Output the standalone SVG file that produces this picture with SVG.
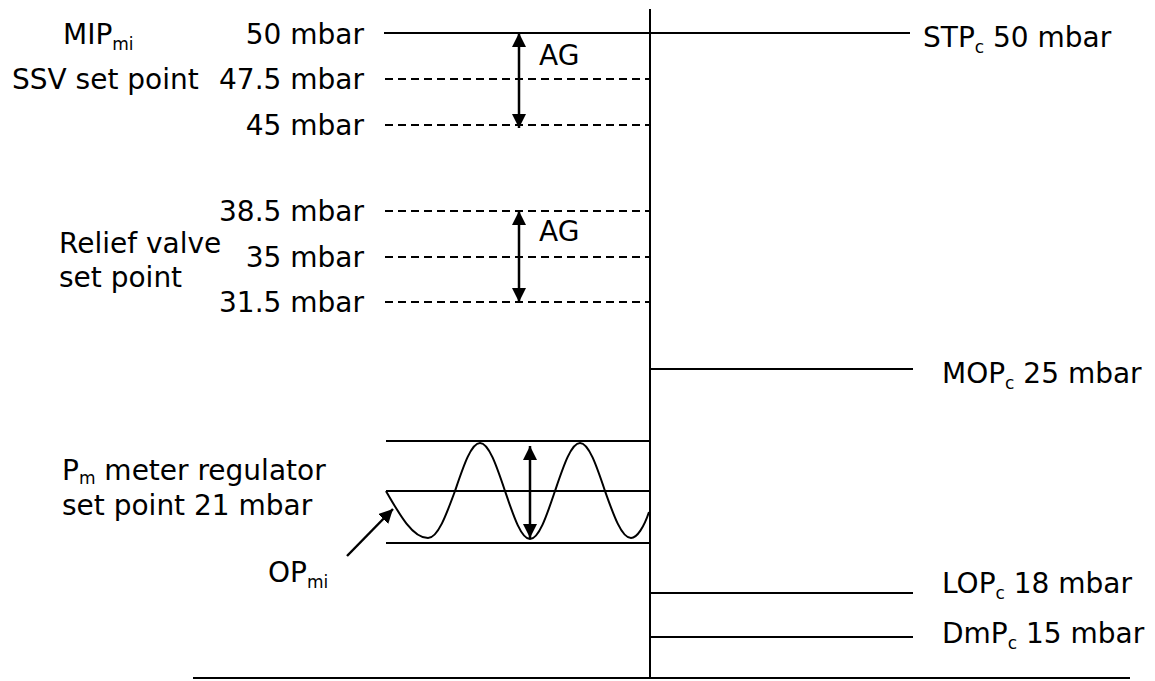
<svg xmlns="http://www.w3.org/2000/svg" width="1155" height="681" viewBox="0 0 1155 681">
<style>
 text { font-family: "DejaVu Sans", Verdana, sans-serif; font-size: 28px; fill: #000; }
 .r { text-anchor: end; }
 .sub { font-size: 17px; }
 .solid { stroke: #000; stroke-width: 2; fill: none; }
 .dash { stroke: #000; stroke-width: 2; stroke-dasharray: 8 5; fill: none; }
 .arr { stroke: #000; stroke-width: 2.5; fill: none; marker-start: url(#ah); marker-end: url(#ah); }
 .one { stroke: #000; stroke-width: 2.5; fill: none; marker-end: url(#ah); }
</style>
<defs>
 <marker id="ah" viewBox="0 0 10 10" refX="10" refY="5" markerWidth="14" markerHeight="14" markerUnits="userSpaceOnUse" orient="auto-start-reverse">
  <path d="M0,0 L10,5 L0,10 z" fill="#000"/>
 </marker>
</defs>

<g id="connectors">
 <line id="axis" class="solid" x1="650" y1="9" x2="650" y2="678"/>
 <line id="baseline" class="solid" x1="193" y1="678" x2="1130" y2="678"/>
 <line class="solid" x1="384" y1="33" x2="910" y2="33"/>
 <line class="dash" x1="385" y1="79" x2="650" y2="79"/>
 <line class="dash" x1="385" y1="125" x2="650" y2="125"/>
 <line class="dash" x1="385" y1="211" x2="650" y2="211"/>
 <line class="dash" x1="385" y1="257" x2="650" y2="257"/>
 <line class="dash" x1="385" y1="302" x2="650" y2="302"/>
 <line class="solid" x1="650" y1="369" x2="913" y2="369"/>
 <line class="solid" x1="650" y1="593" x2="913" y2="593"/>
 <line class="solid" x1="650" y1="637" x2="913" y2="637"/>
 <line class="solid" x1="386" y1="441" x2="650" y2="441"/>
 <line class="solid" x1="386" y1="491" x2="650" y2="491"/>
 <line class="solid" x1="386" y1="543" x2="650" y2="543"/>
 <line class="arr" x1="519" y1="33" x2="519" y2="128"/>
 <line class="arr" x1="519" y1="211" x2="519" y2="302"/>
 <line class="arr" x1="530" y1="446" x2="530" y2="538"/>
 <line class="one" x1="347" y1="556" x2="393" y2="509"/>
</g>

<g id="wave">
 <path class="solid" d="M386,491 C399.7,515 412.8,538 428,538 C437.8,538 446.2,515 455,491 C463.2,467 471,443 480,443 C489,443 496.9,467 505,491 C513.2,515 521,539 530,539 C539,539 546.9,515 555,491 C563.2,467 571,443 580,443 C589,443 596.9,467 605,491 C613.5,515 621.6,538 631,538 C637,538 644,527 649,512"/>
</g>

<g id="left-labels">
 <text x="63" y="44">MIP<tspan class="sub" dy="6">mi</tspan></text>
 <text class="r" x="364" y="44">50 mbar</text>
 <text x="12" y="89">SSV set point</text>
 <text class="r" x="364" y="89">47.5 mbar</text>
 <text class="r" x="364" y="135">45 mbar</text>
 <text class="r" x="364" y="221">38.5 mbar</text>
 <text class="r" x="364" y="267">35 mbar</text>
 <text class="r" x="364" y="312">31.5 mbar</text>
 <text x="59" y="253">Relief valve</text>
 <text x="59" y="287">set point</text>
 <text x="62" y="480">P<tspan class="sub" dy="4">m</tspan><tspan dy="-4"> meter regulator</tspan></text>
 <text x="62" y="515">set point 21 mbar</text>
 <text x="268" y="582">OP<tspan class="sub" dy="6">mi</tspan></text>
 <text x="539" y="65">AG</text>
 <text x="539" y="241">AG</text>
</g>

<g id="right-labels">
 <text x="923" y="47">STP<tspan class="sub" dy="6">c</tspan><tspan dy="-6"> 50 mbar</tspan></text>
 <text x="942" y="383">MOP<tspan class="sub" dy="6">c</tspan><tspan dy="-6"> 25 mbar</tspan></text>
 <text x="942" y="593">LOP<tspan class="sub" dy="6">c</tspan><tspan dy="-6"> 18 mbar</tspan></text>
 <text x="942" y="643">DmP<tspan class="sub" dy="6">c</tspan><tspan dy="-6"> 15 mbar</tspan></text>
</g>
</svg>
